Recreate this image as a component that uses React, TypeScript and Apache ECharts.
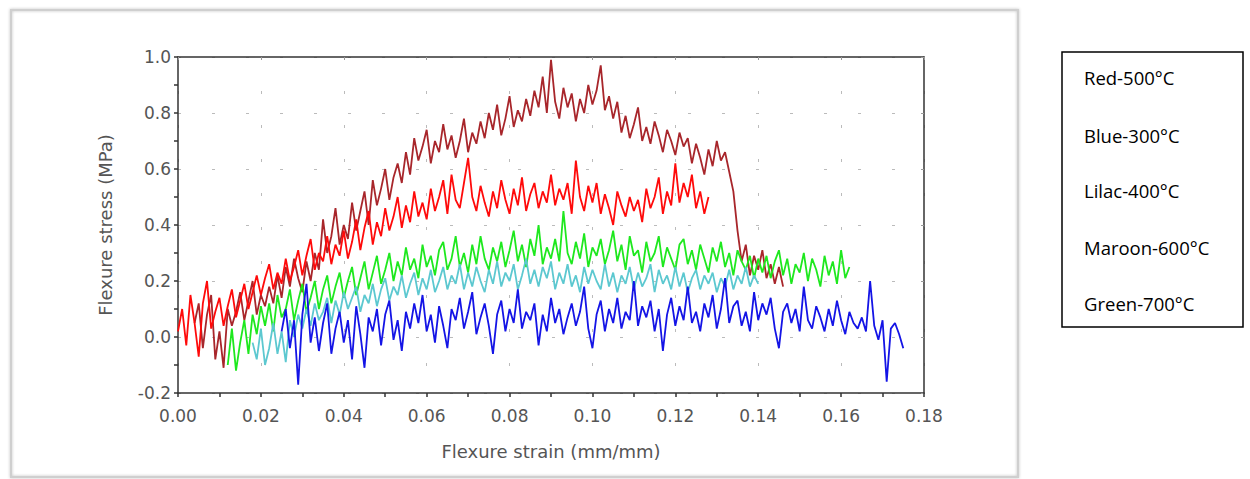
import React, { useEffect, useRef } from "react";
import * as echarts from "echarts";

// strain sampling step (mm/mm) and start strain of each test
const STEP = 0.001;
const maroonStart = 0.004;
const redStart = 0.0;
const greenStart = 0.012;
const lilacStart = 0.018;
const blueStart = 0.025;

// Flexure stress (MPa), one value per strain step
const maroonStress = [
  0.05, 0.12, -0.04, 0.08, 0.15, -0.08, 0.02, -0.11, 0.1, 0.04,
  0.09, 0.16, 0.06, 0.13, 0.2, 0.08, 0.15, 0.11, 0.18, 0.12,
  0.22, 0.14, 0.25, 0.18, 0.28, 0.21, 0.16, 0.27, 0.2, 0.3,
  0.24, 0.42, 0.3, 0.36, 0.46, 0.33, 0.4, 0.35, 0.48, 0.38,
  0.45, 0.52, 0.4, 0.56, 0.47, 0.53, 0.6, 0.49, 0.57, 0.62,
  0.55, 0.66, 0.58, 0.71, 0.63, 0.68, 0.74, 0.62, 0.7, 0.66,
  0.76, 0.67, 0.72, 0.64, 0.7, 0.78, 0.66, 0.73, 0.69, 0.77,
  0.71, 0.8, 0.74, 0.83, 0.72, 0.78, 0.86, 0.75, 0.81, 0.77,
  0.85, 0.79, 0.88, 0.82, 0.93, 0.8, 0.99, 0.84, 0.78, 0.89,
  0.82, 0.87, 0.77, 0.85, 0.8, 0.9, 0.83, 0.88, 0.97, 0.81,
  0.86, 0.78, 0.84, 0.73, 0.79, 0.71, 0.76, 0.82, 0.7, 0.75,
  0.69, 0.77, 0.72, 0.66, 0.74, 0.7, 0.65, 0.73, 0.68, 0.71,
  0.62, 0.69, 0.64, 0.58, 0.67, 0.61, 0.7, 0.63, 0.66, 0.59,
  0.52, 0.38, 0.27, 0.33, 0.22, 0.29, 0.24, 0.31, 0.21, 0.26,
  0.19, 0.25, 0.18,
];
const redStress = [
  0.02, 0.1, -0.03, 0.15, 0.05, -0.07, 0.12, 0.2, 0.03, 0.09,
  0.14, 0.04, 0.11, 0.17, 0.07, 0.13, 0.19, 0.1, 0.16, 0.22,
  0.15, 0.21, 0.26, 0.17, 0.23, 0.19, 0.28, 0.2, 0.25, 0.31,
  0.22, 0.29, 0.35, 0.24, 0.3, 0.27, 0.36, 0.26, 0.33, 0.29,
  0.38, 0.28, 0.34, 0.42, 0.31, 0.39, 0.45, 0.33, 0.41, 0.36,
  0.46, 0.38, 0.43, 0.5, 0.39, 0.47, 0.41, 0.52, 0.43, 0.48,
  0.42, 0.53, 0.45, 0.5, 0.56, 0.44, 0.58, 0.49, 0.46, 0.55,
  0.64, 0.5, 0.45, 0.54, 0.48, 0.43, 0.52, 0.46, 0.56, 0.49,
  0.44, 0.53, 0.47, 0.57, 0.45, 0.51, 0.55, 0.46, 0.52, 0.48,
  0.58, 0.47, 0.53, 0.49, 0.55, 0.44, 0.63, 0.5, 0.45, 0.54,
  0.48, 0.55, 0.44, 0.51, 0.46, 0.4, 0.52, 0.47, 0.43, 0.5,
  0.45, 0.49, 0.41, 0.53, 0.46, 0.5, 0.57, 0.44, 0.52, 0.47,
  0.62, 0.48, 0.55, 0.5, 0.58, 0.46, 0.52, 0.44, 0.5,
];
const greenStress = [
  -0.1, 0.03, -0.12, -0.02, 0.06, -0.06, 0.08, 0.01, 0.11, 0.04,
  0.12, 0.02, 0.15, 0.07, 0.1, 0.17, 0.06, 0.13, 0.19, 0.09,
  0.14, 0.2, 0.1, 0.17, 0.22, 0.12, 0.18, 0.23, 0.14, 0.2,
  0.25, 0.15, 0.21, 0.27, 0.17, 0.23, 0.29, 0.19, 0.24, 0.3,
  0.2, 0.27, 0.22, 0.32, 0.24, 0.28, 0.21, 0.33, 0.25, 0.29,
  0.22, 0.31, 0.34, 0.24, 0.28, 0.36, 0.25, 0.3, 0.23, 0.33,
  0.26, 0.36, 0.28, 0.24, 0.32, 0.27, 0.34, 0.25, 0.31, 0.38,
  0.27, 0.33, 0.25, 0.35, 0.29, 0.4, 0.26, 0.32, 0.28, 0.35,
  0.27, 0.45, 0.3, 0.26, 0.34, 0.28, 0.37, 0.25, 0.32, 0.29,
  0.35, 0.26, 0.31, 0.38, 0.27, 0.33, 0.24, 0.36, 0.29, 0.31,
  0.23, 0.34, 0.27, 0.3, 0.36, 0.25, 0.32, 0.28, 0.24, 0.33,
  0.35, 0.26, 0.31, 0.24, 0.33, 0.28, 0.23, 0.32, 0.27, 0.34,
  0.25, 0.3, 0.22, 0.31, 0.27, 0.24, 0.29, 0.21, 0.28, 0.23,
  0.29, 0.21, 0.27, 0.31, 0.22, 0.28, 0.19, 0.26, 0.23, 0.3,
  0.2, 0.28, 0.24, 0.18, 0.29, 0.22, 0.27, 0.19, 0.31, 0.21,
  0.25,
];
const lilacStress = [
  -0.02, -0.08, 0.03, -0.1, -0.04, 0.05, -0.06, 0.02, -0.09, 0.06,
  0.0, 0.08, 0.03, 0.1, 0.04, 0.12, 0.06, 0.09, 0.14, 0.05,
  0.13, 0.08, 0.16, 0.1, 0.14, 0.18, 0.09, 0.15, 0.12, 0.19,
  0.11, 0.17, 0.21, 0.13, 0.18, 0.15, 0.22, 0.14, 0.19, 0.23,
  0.15, 0.21, 0.17, 0.24, 0.16, 0.2, 0.25, 0.17, 0.22, 0.19,
  0.26, 0.17, 0.23, 0.18, 0.25, 0.2, 0.16, 0.24, 0.19, 0.27,
  0.18, 0.23, 0.2, 0.26, 0.17, 0.22, 0.28, 0.19, 0.24, 0.18,
  0.25, 0.21, 0.27, 0.17, 0.23, 0.19, 0.26, 0.18, 0.22, 0.16,
  0.25, 0.19, 0.24, 0.2, 0.17, 0.26, 0.18, 0.23, 0.16, 0.22,
  0.19, 0.25, 0.17, 0.23, 0.18, 0.21, 0.26, 0.16, 0.24, 0.19,
  0.22, 0.17, 0.25, 0.18, 0.23, 0.16, 0.21, 0.24, 0.17, 0.22,
  0.19, 0.23, 0.16, 0.21, 0.18, 0.24, 0.17, 0.22, 0.19, 0.25,
  0.18, 0.22, 0.19,
];
const blueStress = [
  0.02, 0.1, -0.04, 0.06, -0.17, 0.08, 0.19, -0.02, 0.07, -0.05,
  0.05, 0.12, -0.06, 0.03, 0.09, -0.02, 0.06, -0.08, 0.11, 0.01,
  -0.11, 0.07, 0.02, 0.1, -0.03, 0.08, 0.13, -0.01, 0.06, -0.05,
  0.09, 0.03, 0.12, 0.05, 0.15, 0.02, 0.08, -0.02, 0.11, 0.04,
  -0.04, 0.1, 0.06, 0.14, 0.03, 0.09, 0.16, 0.01, 0.07, 0.12,
  0.04, -0.06, 0.08, 0.13, 0.02, 0.1, 0.05, 0.17, 0.03, 0.09,
  0.06, 0.12, -0.03, 0.08, 0.02, 0.14, 0.05, 0.1, 0.01, 0.07,
  0.12, 0.04, 0.09, 0.18, 0.03, -0.04, 0.08, 0.13, 0.02, 0.1,
  0.05, 0.14, 0.03, 0.09, 0.06, 0.2, 0.04, 0.11, 0.07, 0.13,
  0.02, 0.1, -0.05, 0.08, 0.14, 0.04, 0.11, 0.06, 0.18, 0.05,
  0.09, 0.02, 0.12, 0.07, 0.15, 0.03, 0.1, 0.21, 0.05, 0.11,
  0.13, 0.04, 0.09, 0.02, 0.16, 0.06, 0.12, 0.08, 0.14, 0.03,
  -0.04, 0.09, 0.12, 0.05, 0.1, 0.02, 0.18, 0.06, 0.03, 0.11,
  0.07, 0.02, 0.1, 0.04, 0.13, 0.06, 0.01, 0.09, 0.05, 0.03,
  0.07, 0.02, 0.2, 0.04, -0.01, 0.06, -0.16, 0.03, 0.05, 0.01,
  -0.04,
];

const legendLabels = ["Red-500°C", "Blue-300°C", "Lilac-400°C", "Maroon-600°C", "Green-700°C"];

const seriesDefs = [
  { name: "Maroon-600°C", start: maroonStart, values: maroonStress, color: "#a8262b" },
  { name: "Red-500°C", start: redStart, values: redStress, color: "#ff0a0a" },
  { name: "Green-700°C", start: greenStart, values: greenStress, color: "#1ee81e" },
  { name: "Lilac-400°C", start: lilacStart, values: lilacStress, color: "#5cc8d0" },
  { name: "Blue-300°C", start: blueStart, values: blueStress, color: "#1414e6" },
];

const toPairs = (start: number, values: number[]) =>
  values.map((v, i) => [+(start + i * STEP).toFixed(4), v]);

const fmt = (v: number, d: number) => (Math.abs(v) < 1e-9 ? 0 : v).toFixed(d);

export default function App() {
  const ref = useRef<HTMLDivElement>(null);
  useEffect(() => {
    if (!ref.current) return;
    const chart = echarts.init(ref.current, undefined, { renderer: "svg" });
    const axisFont = { fontFamily: "DejaVu Sans", fontSize: 17, color: "#555" };
    const grid = { left: 178, top: 57, width: 746, height: 336 };
    const tickStyle = { color: "#333", width: 1.5 };
    chart.setOption({
      animation: false,
      backgroundColor: "#fff",
      grid: { ...grid, show: false },
      xAxis: [
        {
          type: "value",
          min: 0,
          max: 0.18,
          interval: 0.02,
          name: "Flexure strain (mm/mm)",
          nameLocation: "middle",
          nameGap: 49,
          nameTextStyle: { fontFamily: "DejaVu Sans", fontSize: 18, color: "#555" },
          axisLine: { show: true, onZero: false, lineStyle: { color: "#333", width: 1.5 } },
          axisTick: { show: true, length: 4, lineStyle: tickStyle },
          minorTick: { show: true, splitNumber: 2, length: 4, lineStyle: tickStyle },
          axisLabel: { ...axisFont, margin: 14, formatter: (v: number) => fmt(v, 2) },
          splitLine: { show: true, lineStyle: { color: "#bbb", type: [3, 31], width: 1 } },
        },
        {
          type: "value",
          position: "top",
          min: 0,
          max: 0.18,
          interval: 0.02,
          axisLine: { show: true, onZero: false, lineStyle: { color: "#333", width: 1.5 } },
          axisTick: { show: true, inside: true, length: 3, lineStyle: { color: "#999" } },
          axisLabel: { show: false },
          splitLine: { show: false },
        },
      ],
      yAxis: [
        {
          type: "value",
          min: -0.2,
          max: 1.0,
          interval: 0.2,
          name: "Flexure stress (MPa)",
          nameLocation: "middle",
          nameGap: 64,
          nameTextStyle: { fontFamily: "DejaVu Sans", fontSize: 18, color: "#555" },
          axisLine: { show: true, onZero: false, lineStyle: { color: "#333", width: 1.5 } },
          axisTick: { show: true, length: 4, lineStyle: tickStyle },
          minorTick: { show: true, splitNumber: 2, length: 4, lineStyle: tickStyle },
          axisLabel: { ...axisFont, margin: 7, formatter: (v: number) => fmt(v, 1) },
          splitLine: { show: true, lineStyle: { color: "#bbb", type: [3, 31], width: 1 } },
        },
        {
          type: "value",
          position: "right",
          min: -0.2,
          max: 1.0,
          interval: 0.2,
          axisLine: { show: true, onZero: false, lineStyle: { color: "#333", width: 1.5 } },
          axisTick: { show: true, inside: true, length: 3, lineStyle: { color: "#999" } },
          axisLabel: { show: false },
          splitLine: { show: false },
        },
      ],
      series: seriesDefs.map((s) => ({
        name: s.name,
        type: "line",
        data: toPairs(s.start, s.values),
        showSymbol: false,
        symbol: "none",
        lineStyle: { color: s.color, width: 1.8 },
        itemStyle: { color: s.color },
      })),
      graphic: [
        {
          type: "rect",
          z: -10,
          shape: { x: 11, y: 10, width: 1007, height: 467 },
          style: { fill: "none", stroke: "#cfcfcf", lineWidth: 2, shadowBlur: 3, shadowColor: "rgba(0,0,0,0.25)" },
          silent: true,
        },
        {
          type: "rect",
          shape: { x: 1062, y: 52, width: 181, height: 275 },
          style: { fill: "#fff", stroke: "#000", lineWidth: 1.5 },
          silent: true,
        },
        ...legendLabels.map((t, i) => ({
          type: "text",
          x: 1084,
          y: [77, 135, 190, 247, 303][i],
          style: {
            text: t,
            fill: "#000",
            font: '18.5px "Open Sans"',
            verticalAlign: "middle",
            align: "left",
          },
          silent: true,
        })),
      ],
    });
    return () => chart.dispose();
  }, []);
  return (
    <div
      ref={ref}
      style={{ position: "absolute", left: 0, top: 0, width: 1250, height: 479 }}
    />
  );
}
